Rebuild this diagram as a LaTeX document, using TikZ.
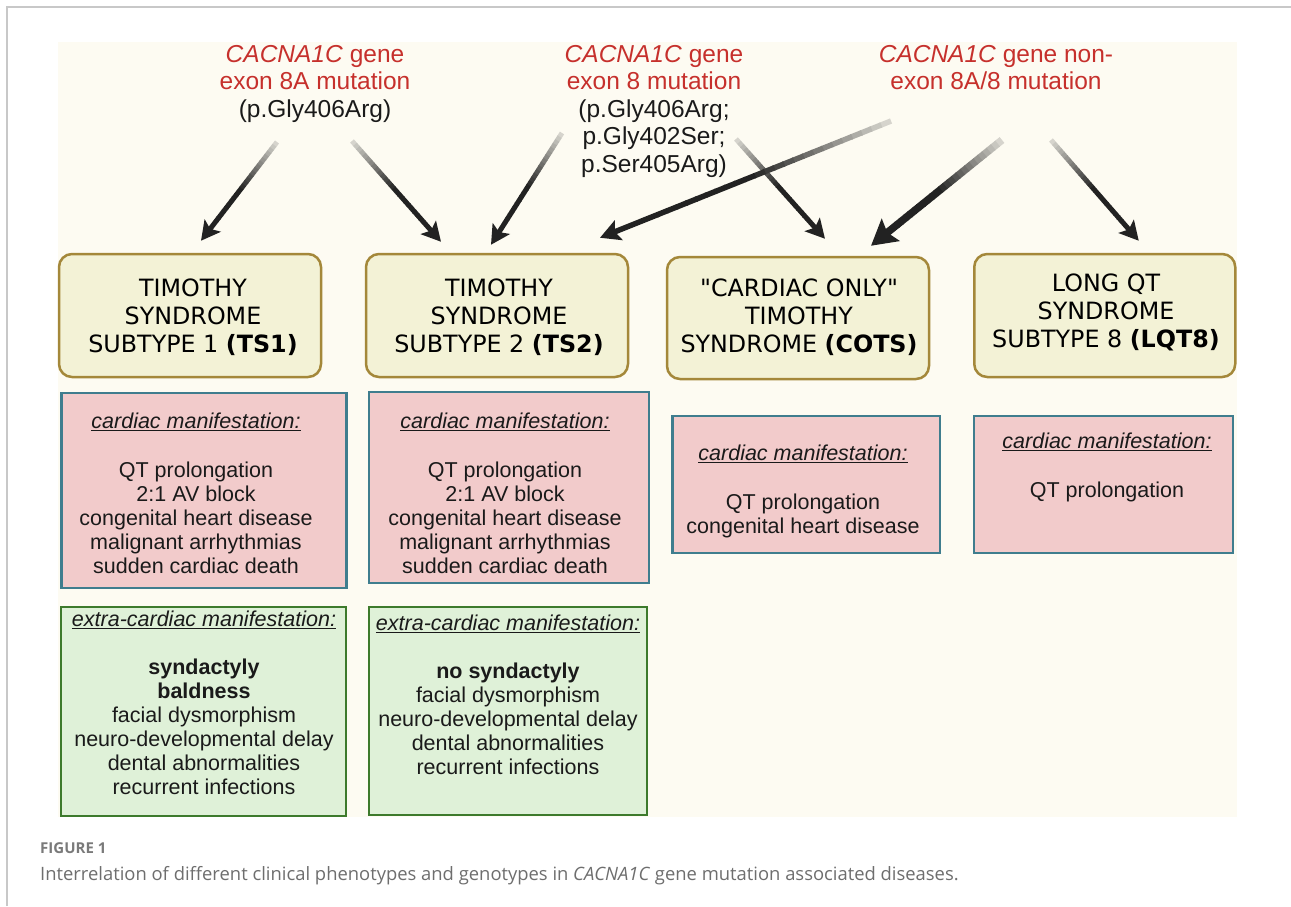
\documentclass[tikz,border=0pt]{standalone}
\usepackage{fontspec}
\setmainfont{Liberation Sans}
\newfontfamily\djv{DejaVu Sans}
\newfontfamily\osans{Open Sans}
\usetikzlibrary{arrows.meta,calc}
\definecolor{cream}{HTML}{FDFBF2}
\definecolor{yfill}{HTML}{F3F2D6}
\definecolor{ydraw}{HTML}{A4883A}
\definecolor{pfill}{HTML}{F2CBCB}
\definecolor{pdraw}{HTML}{3F7D8E}
\definecolor{gfill}{HTML}{DFF1D8}
\definecolor{gdraw}{HTML}{3D7A2C}
\definecolor{gred}{HTML}{C6302C}
\definecolor{adark}{HTML}{222222}
\definecolor{tdark}{HTML}{1A1A1A}
\definecolor{framegray}{HTML}{C8C8C8}
\definecolor{capgray}{HTML}{6E6E6E}
\definecolor{figgray}{HTML}{7A7A7A}
\newcommand\tstrut{\rule{0pt}{22pt}}
\newcommand\myul[1]{\setbox0\hbox{#1}\rlap{\rule[-3pt]{\wd0}{1.2pt}}\box0}
\newcommand\gradarrow[5]{%
  \foreach \k in {0,...,23}{%
    \pgfmathsetmacro\gta{\k*0.8/24}%
    \pgfmathsetmacro\gtb{(\k+1)*0.8/24+0.004}%
    \pgfmathtruncatemacro\gpc{min(100,12+88*\gtb/0.5)}%
    \draw[line width=#3, draw=adark!\gpc!cream] ($(#1)!\gta!(#2)$) -- ($(#1)!\gtb!(#2)$);
  }%
  \draw[line width=#3, draw=adark, -{Stealth[length=#4, width=#5, inset=4pt]}] ($(#1)!0.8!(#2)$) -- (#2);
}
\tikzset{
  titlebox/.style={draw=ydraw, fill=yfill, line width=2.5pt, rounded corners=13pt, inner sep=0pt},
  cardbox/.style={draw=pdraw, fill=pfill, line width=2.5pt, inner sep=0pt},
  extrabox/.style={draw=gdraw, fill=gfill, line width=2.5pt, inner sep=0pt},
  titletext/.style={align=center, inner sep=0pt, anchor=north, text=black, font=\djv\fontsize{23.8}{28}\selectfont},
  listtext/.style={align=center, inner sep=0pt, anchor=north, text=tdark, font=\fontsize{21.5}{24}\selectfont},
  genetext/.style={align=center, inner sep=0pt, anchor=north, text=gred, font=\fontsize{24.5}{27.5}\selectfont},
}
\begin{document}
\begin{tikzpicture}[x=1pt, y=-1pt]
\useasboundingbox (0,0) rectangle (1291,906);
\fill[white] (0,0) rectangle (1291,906);
\draw[framegray, line width=2pt] (7,906) -- (7,7) -- (1291,7);
\fill[cream] (58,42) rectangle (1237,817);

% genotype texts
\node[genetext] (g1) at (315,40) {\tstrut\textit{CACNA1C} gene\\exon 8A mutation\\\textcolor{tdark}{(p.Gly406Arg)}};
\node[genetext] (g2) at (654,40) {\tstrut\textit{CACNA1C} gene\\exon 8 mutation\\\textcolor{tdark}{(p.Gly406Arg;}\\\textcolor{tdark}{p.Gly402Ser;}\\\textcolor{tdark}{p.Ser405Arg)}};
\node[genetext] (g3) at (996,40) {\tstrut\textit{CACNA1C} gene non-\\exon 8A/8 mutation};

% phenotype title boxes
\node[titlebox, minimum width=262pt, minimum height=123pt] (ts1) at (190,315.5) {};
\node[titlebox, minimum width=262pt, minimum height=123pt] (ts2) at (497,315.5) {};
\node[titlebox, minimum width=262pt, minimum height=122pt] (cots) at (798,318) {};
\node[titlebox, minimum width=261pt, minimum height=123pt] (lqt8) at (1104.75,315.5) {};
\node[titletext] (ts1t) at (193,274) {\tstrut TIMOTHY\\SYNDROME\\SUBTYPE 1 \textbf{(TS1)}};
\node[titletext] (ts2t) at (499,274) {\tstrut TIMOTHY\\SYNDROME\\SUBTYPE 2 \textbf{(TS2)}};
\node[titletext] (cotst) at (799,274) {\tstrut\char"22 CARDIAC ONLY\char"22\\TIMOTHY\\SYNDROME \textbf{(COTS)}};
\node[titletext] (lqt8t) at (1106,269) {\tstrut LONG QT\\SYNDROME\\SUBTYPE 8 \textbf{(LQT8)}};

% cardiac boxes
\node[cardbox, minimum width=285pt, minimum height=195pt] (c1) at (204,490.5) {};
\node[cardbox, minimum width=280pt, minimum height=191pt] (c2) at (509,487.5) {};
\node[cardbox, minimum width=267.5pt, minimum height=137pt] (c3) at (806.25,484.5) {};
\node[cardbox, minimum width=259pt, minimum height=137pt] (c4) at (1103.5,484.5) {};
\node[listtext] (c1t) at (196,406) {\tstrut\myul{\textit{cardiac manifestation:}}\\[25pt]QT prolongation\\2:1 AV block\\congenital heart disease\\malignant arrhythmias\\sudden cardiac death};
\node[listtext] (c2t) at (505,406) {\tstrut\myul{\textit{cardiac manifestation:}}\\[25pt]QT prolongation\\2:1 AV block\\congenital heart disease\\malignant arrhythmias\\sudden cardiac death};
\node[listtext] (c3t) at (803,438) {\tstrut\myul{\textit{cardiac manifestation:}}\\[25pt]QT prolongation\\congenital heart disease};
\node[listtext] (c4t) at (1107,426) {\tstrut\myul{\textit{cardiac manifestation:}}\\[25pt]QT prolongation};

% extra-cardiac boxes
\node[extrabox, minimum width=285pt, minimum height=209pt] (e1) at (203.5,711.5) {};
\node[extrabox, minimum width=278pt, minimum height=208pt] (e2) at (508,711) {};
\node[listtext] (e1t) at (204,604) {\tstrut\myul{\textit{extra-cardiac manifestation:}}\\[24pt]\textbf{syndactyly}\\\textbf{baldness}\\facial dysmorphism\\neuro-developmental delay\\dental abnormalities\\recurrent infections};
\node[listtext] (e2t) at (508,608) {\tstrut\myul{\textit{extra-cardiac manifestation:}}\\[24pt]\textbf{no syndactyly}\\facial dysmorphism\\neuro-developmental delay\\dental abnormalities\\recurrent infections};

% arrows
\coordinate (a1s) at (277,142);
\coordinate (a2s) at (352,141);
\coordinate (b1s) at (562,133);
\coordinate (b2s) at (736,139);
\coordinate (c1s) at (891,121);
\coordinate (c2s) at (1002,140);
\coordinate (c3s) at (1051,140);
\coordinate (a1e) at ($(ts1.north)+(11,-12)$);
\coordinate (a2e) at ($(ts2.north)+(-56,-11)$);
\coordinate (b1e) at ($(ts2.north)+(-6,-8)$);
\coordinate (b2e) at ($(cots.north)+(27,-17)$);
\coordinate (c1e) at ($(ts2.north)+(103,-15)$);
\coordinate (c2e) at ($(cots.north)+(73,-10)$);
\coordinate (c3e) at ($(lqt8.north)+(34,-12)$);
\gradarrow{a1s}{a1e}{5pt}{19pt}{20pt}
\gradarrow{a2s}{a2e}{5pt}{19pt}{20pt}
\gradarrow{b1s}{b1e}{5pt}{19pt}{20pt}
\gradarrow{b2s}{b2e}{5pt}{19pt}{20pt}
\gradarrow{c1s}{c1e}{5.5pt}{20pt}{21pt}
\gradarrow{c2s}{c2e}{7.5pt}{25pt}{28pt}
\gradarrow{c3s}{c3e}{5pt}{19pt}{20pt}

% caption
\node[anchor=base west, inner sep=0pt, text=figgray, font=\osans\bfseries\fontsize{15}{18}\selectfont] (fig) at (40,853) {FIGURE 1};
\node[anchor=base west, inner sep=0pt, text=capgray, font=\osans\fontsize{18.4}{22}\selectfont] (cap) at (40,880) {Interrelation of different clinical phenotypes and genotypes in \textit{CACNA1C} gene mutation associated diseases.};
\end{tikzpicture}
\end{document}
